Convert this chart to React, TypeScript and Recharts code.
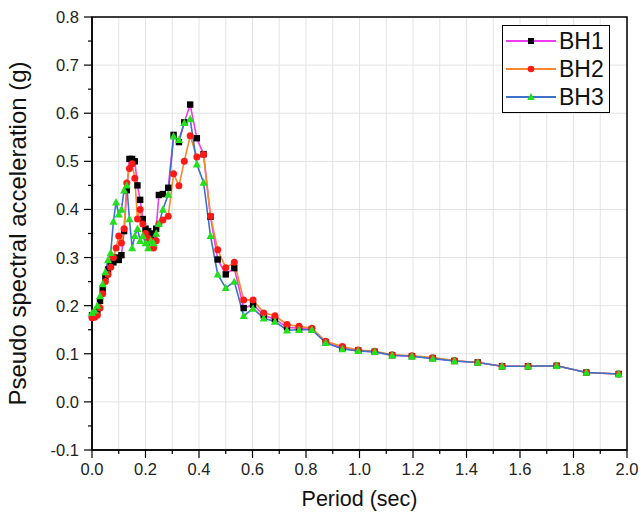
import React from 'react';
import { LineChart, Line, XAxis, YAxis, CartesianGrid, Legend, ReferenceArea } from 'recharts';

// periods (sec) shared by the three boreholes
const periods = [
  0, 0.01, 0.02, 0.03, 0.04, 0.05, 0.06, 0.07, 0.08, 0.09, 0.1, 0.11, 0.12, 0.13, 0.14, 0.15, 0.16, 0.17,
  0.18, 0.19, 0.2, 0.21, 0.22, 0.23, 0.24, 0.25, 0.265, 0.285, 0.305, 0.325, 0.345, 0.367, 0.392, 0.417,
  0.443, 0.47, 0.5, 0.532, 0.567, 0.602, 0.642, 0.684, 0.729, 0.774, 0.822, 0.874, 0.936, 0.995, 1.057,
  1.122, 1.196, 1.274, 1.355, 1.442, 1.533, 1.63, 1.737, 1.848, 1.969,
];

const bh1 = [
  0.18, 0.182, 0.19, 0.21, 0.235, 0.26, 0.275, 0.285, 0.29, 0.3, 0.295, 0.305, 0.355, 0.44, 0.505, 0.505,
  0.5, 0.45, 0.42, 0.38, 0.36, 0.355, 0.345, 0.35, 0.36, 0.43, 0.432, 0.445, 0.555, 0.54, 0.581, 0.618,
  0.548, 0.515, 0.385, 0.296, 0.265, 0.278, 0.195, 0.202, 0.18, 0.172, 0.155, 0.153, 0.151, 0.124, 0.112,
  0.107, 0.104, 0.097, 0.095, 0.091, 0.085, 0.082, 0.074, 0.074, 0.075, 0.061, 0.058,
];

const bh2 = [
  0.175, 0.176, 0.18, 0.195, 0.225, 0.25, 0.265, 0.28, 0.3, 0.32, 0.345, 0.33, 0.36, 0.455, 0.485, 0.495,
  0.465, 0.38, 0.4, 0.37, 0.35, 0.34, 0.335, 0.32, 0.335, 0.37, 0.378, 0.386, 0.474, 0.449, 0.5, 0.553,
  0.509, 0.514, 0.386, 0.316, 0.279, 0.29, 0.212, 0.212, 0.185, 0.179, 0.161, 0.157, 0.153, 0.126, 0.115,
  0.108, 0.105, 0.098, 0.096, 0.092, 0.086, 0.082, 0.074, 0.074, 0.075, 0.061, 0.058,
];

const bh3 = [
  0.185, 0.19, 0.2, 0.22, 0.245, 0.27, 0.295, 0.31, 0.375, 0.415, 0.39, 0.4, 0.44, 0.45, 0.38, 0.32, 0.345,
  0.36, 0.335, 0.345, 0.33, 0.32, 0.335, 0.33, 0.35, 0.37, 0.4, 0.431, 0.552, 0.545, 0.58, 0.588, 0.494,
  0.456, 0.345, 0.265, 0.237, 0.25, 0.179, 0.194, 0.174, 0.167, 0.149, 0.15, 0.15, 0.123, 0.11, 0.106,
  0.104, 0.097, 0.095, 0.09, 0.085, 0.082, 0.074, 0.074, 0.075, 0.061, 0.058,
];

const xTicks = Array.from({ length: 21 }, (_, i) => i / 10);
const yTicks = Array.from({ length: 19 }, (_, i) => (i - 2) / 20);
const yMajor = Array.from({ length: 10 }, (_, i) => (i - 1) / 10);

const data = periods.map((p, i) => ({ period: p, BH1: bh1[i], BH2: bh2[i], BH3: bh3[i] }));

const FONT = '"Liberation Sans", Arial, sans-serif';

const XTick = ({ x, y, payload, index }: any) => {
  const major = index % 2 === 0;
  return (
    <g>
      <line x1={x} x2={x} y1={y} y2={y + (major ? 8 : 4)} stroke="#000" strokeWidth={1.2} />
      {major && (
        <text x={x} y={y + 25} textAnchor="middle" fontSize={16.5} fill="#222" fontFamily={FONT}>
          {payload.value.toFixed(1)}
        </text>
      )}
    </g>
  );
};

const YTick = ({ x, y, payload, index }: any) => {
  const major = index % 2 === 0;
  return (
    <g>
      <line x1={x} x2={x - (major ? 8 : 4)} y1={y} y2={y} stroke="#000" strokeWidth={1.2} />
      {major && (
        <text x={x - 13} y={y + 6} textAnchor="end" fontSize={16.5} fill="#222" fontFamily={FONT}>
          {payload.value.toFixed(1)}
        </text>
      )}
    </g>
  );
};

const Square = ({ cx, cy, key }: any) => (
  <rect key={key} x={cx - 3.2} y={cy - 3.2} width={6.4} height={6.4} fill="#000" />
);
const Dot = ({ cx, cy, key }: any) => <circle key={key} cx={cx} cy={cy} r={3.5} fill="#ff1a1a" />;
const Tri = ({ cx, cy, key }: any) => (
  <polygon key={key} points={`${cx},${cy - 4.2} ${cx - 4},${cy + 3.2} ${cx + 4},${cy + 3.2}`} fill="#22e01e" />
);

const series = [
  { key: 'BH1', line: '#f03cf0', mark: 'sq' },
  { key: 'BH2', line: '#f7882f', mark: 'ci' },
  { key: 'BH3', line: '#3c72c8', mark: 'tr' },
];

const LegendBox = () => (
  <div
    style={{
      border: '1.5px solid #000',
      background: '#fff',
      width: 108,
      padding: '1px 0',
      fontFamily: FONT,
      boxSizing: 'border-box',
    }}
  >
    {series.map((s) => (
      <div key={s.key} style={{ display: 'flex', alignItems: 'center', height: 28 }}>
        <svg width={54} height={20}>
          <line x1={3} x2={53} y1={10} y2={10} stroke={s.line} strokeWidth={2} />
          {s.mark === 'sq' && <rect x={25} y={7} width={6} height={6} fill="#000" />}
          {s.mark === 'ci' && <circle cx={28} cy={10} r={3.3} fill="#ff1a1a" />}
          {s.mark === 'tr' && <polygon points="28,6 24.2,13 31.8,13" fill="#22e01e" />}
        </svg>
        <span style={{ fontSize: 23, color: '#111', marginLeft: 2 }}>{s.key}</span>
      </div>
    ))}
  </div>
);

export default function App() {
  return (
    <div style={{ position: 'absolute', left: 0, top: 0, background: '#fff' }}>
      <LineChart width={642} height={520} data={data} margin={{ top: 17, right: 15, bottom: 0, left: 0 }}>
        <CartesianGrid stroke="#e3e3e3" verticalValues={xTicks} horizontalValues={yMajor} />
        <XAxis
          type="number"
          dataKey="period"
          domain={[0, 2]}
          ticks={xTicks}
          interval={0}
          height={70}
          tickSize={0}
          tickMargin={0}
          tickLine={false}
          tick={<XTick />}
          axisLine={{ stroke: '#000', strokeWidth: 1.5 }}
          label={{
            content: ({ viewBox }: any) => (
              <text
                x={viewBox.x + viewBox.width / 2}
                y={viewBox.y + 56}
                textAnchor="middle"
                fontSize={21.5}
                fill="#111"
                fontFamily={FONT}
              >
                Period (sec)
              </text>
            ),
          }}
        />
        <YAxis
          type="number"
          domain={[-0.1, 0.8]}
          ticks={yTicks}
          interval={0}
          width={92}
          tickSize={0}
          tickMargin={0}
          tickLine={false}
          tick={<YTick />}
          axisLine={{ stroke: '#000', strokeWidth: 1.5 }}
          label={{
            content: ({ viewBox }: any) => {
              const cx = viewBox.x + 26;
              const cy = viewBox.y + viewBox.height / 2;
              return (
                <text
                  x={cx}
                  y={cy}
                  transform={`rotate(-90, ${cx}, ${cy})`}
                  textAnchor="middle"
                  fontSize={24}
                  fill="#111"
                  fontFamily={FONT}
                >
                  Pseudo spectral acceleration (g)
                </text>
              );
            },
          }}
        />
        <Legend
          layout="vertical"
          align="center"
          verticalAlign="middle"
          content={<LegendBox />}
          wrapperStyle={{ left: 502, top: 25, width: 110, height: 90 }}
        />
        <Line
          dataKey="BH1"
          stroke="#f03cf0"
          strokeWidth={1.6}
          dot={Square}
          activeDot={false}
          isAnimationActive={false}
        />
        <Line
          dataKey="BH2"
          stroke="#f7882f"
          strokeWidth={1.6}
          dot={Dot}
          activeDot={false}
          isAnimationActive={false}
        />
        <Line
          dataKey="BH3"
          stroke="#3c72c8"
          strokeWidth={1.6}
          dot={Tri}
          activeDot={false}
          isAnimationActive={false}
        />
        <ReferenceArea x1={0} x2={2} y1={-0.1} y2={0.8} fill="none" stroke="#000" strokeWidth={1.5} />
      </LineChart>
    </div>
  );
}
